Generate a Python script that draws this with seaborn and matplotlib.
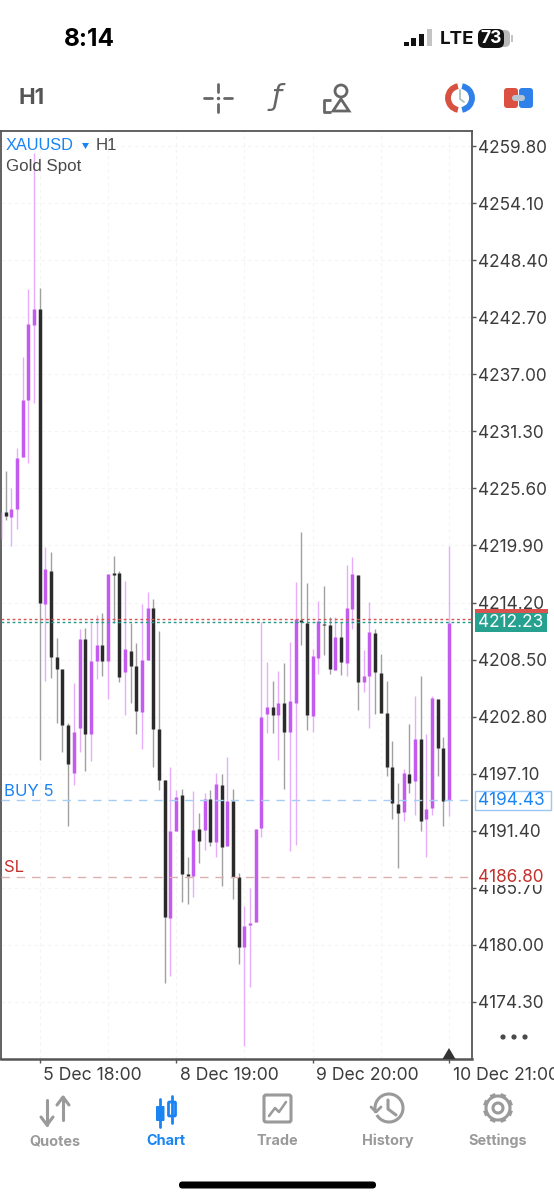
import numpy as np
import pandas as pd
import seaborn as sns
import matplotlib.pyplot as plt
from matplotlib.patches import Rectangle, FancyBboxPatch, Circle, Arc, Polygon

# candles, H1
opens = [4220.5,4223.2,4222.7,4223.5,4228.7,4234.4,4241.9,4243.5,4214.1,4217.3,
         4208.8,4207.6,4202.0,4197.2,4201.7,4210.6,4201.1,4208.4,4210.0,4208.4,
         4217.1,4217.1,4207.3,4209.4,4207.9,4203.3,4208.5,4213.7,4201.6,4196.5,
         4182.7,4191.4,4195.0,4187.1,4186.9,4191.6,4191.5,4194.6,4190.3,4196.0,
         4189.9,4194.4,4186.8,4179.8,4182.0,4182.3,4191.7,4203.1,4203.8,4203.0,
         4204.2,4201.3,4204.2,4212.5,4212.2,4202.9,4208.7,4212.1,4212.0,4207.5,
         4210.8,4208.2,4213.6,4216.9,4206.3,4206.9,4211.2,4207.2,4203.2,4197.8,
         4194.1,4193.3,4197.1,4196.4,4200.6,4192.6,4193.7,4204.6,4199.7,4194.5]
highs = [4223.2,4227.3,4225.6,4229.6,4238.7,4245.5,4259.1,4245.6,4219.7,4219.2,
         4210.7,4207.6,4202.2,4206.2,4211.6,4211.7,4212.2,4213.0,4213.2,4217.0,
         4218.8,4217.3,4216.4,4212.2,4210.2,4214.1,4215.3,4214.6,4211.4,4196.5,
         4197.8,4195.5,4195.6,4188.8,4195.4,4193.2,4195.2,4195.5,4197.2,4197.1,
         4198.8,4195.6,4187.2,4183.9,4185.7,4191.6,4212.3,4208.3,4206.4,4207.4,
         4208.2,4210.3,4216.3,4221.2,4216.2,4209.6,4214.4,4215.9,4212.8,4212.8,
         4212.3,4217.9,4218.7,4216.9,4209.5,4214.3,4211.6,4209.1,4206.4,4200.4,
         4196.2,4197.6,4202.1,4204.9,4206.9,4201.1,4204.9,4204.6,4200.8,4219.8]
lows = [4220.5,4222.4,4219.8,4221.5,4228.7,4228.1,4234.1,4198.5,4206.4,4206.7,
        4202.2,4199.3,4191.9,4196.0,4199.3,4197.4,4198.4,4206.6,4206.9,4204.6,
        4212.2,4206.3,4203.0,4204.2,4201.1,4199.6,4208.5,4197.8,4195.5,4176.2,
        4176.9,4191.4,4184.3,4184.1,4184.8,4188.2,4189.5,4189.9,4188.8,4185.9,
        4189.9,4184.6,4178.1,4169.9,4175.8,4182.3,4190.8,4201.2,4201.2,4198.5,
        4195.6,4189.4,4190.0,4210.0,4201.5,4201.3,4207.1,4209.0,4207.1,4207.5,
        4207.0,4206.9,4211.6,4203.5,4205.3,4201.7,4203.1,4203.2,4196.9,4192.6,
        4187.7,4192.4,4195.2,4193.0,4191.4,4188.8,4193.0,4196.9,4191.9,4192.9]
closes = [4223.2,4222.8,4223.5,4228.6,4234.4,4242.0,4243.5,4214.2,4217.5,4208.8,
          4207.6,4202.0,4198.1,4201.3,4210.6,4201.1,4208.4,4210.0,4208.4,4217.0,
          4216.9,4206.8,4209.6,4207.9,4203.4,4208.5,4213.7,4201.6,4196.5,4182.8,
          4191.4,4194.8,4187.1,4186.9,4191.5,4190.4,4194.6,4190.3,4196.1,4189.8,
          4194.4,4186.8,4179.8,4181.9,4182.2,4191.6,4202.8,4203.8,4203.0,4204.2,
          4201.3,4204.4,4212.6,4212.3,4203.0,4208.9,4212.4,4212.0,4207.6,4210.8,
          4208.3,4213.7,4217.0,4206.3,4206.9,4211.3,4207.3,4203.2,4197.8,4194.2,
          4193.2,4197.2,4196.2,4200.6,4192.4,4193.6,4204.7,4199.7,4194.4,4212.2]

price_ticks = [4259.80,4254.10,4248.40,4242.70,4237.00,4231.30,4225.60,4219.90,
               4214.20,4208.50,4202.80,4197.10,4191.40,4185.70,4180.00,4174.30]
time_ticks = [7, 31, 55, 79]
time_labels = ['5 Dec 18:00', '8 Dec 19:00', '9 Dec 20:00', '10 Dec 21:00']
grid_times = [7, 19, 31, 43, 55, 67, 79]
bid_price = 4212.23
ask_price = 4212.55
buy_price = 4194.43
sl_price = 4186.80

W, H = 554, 1200
BLUE = '#1a84f2'
GREY = '#4a4a4a'
TAB = '#9a9a9a'

sns.set_theme(style='white')
plt.rcParams['font.family'] = ['Inter', 'DejaVu Sans']

idx = np.arange(len(opens))
df = pd.DataFrame({'i': idx, 'open': opens, 'high': highs, 'low': lows, 'close': closes})
df['side'] = np.where(df['close'] >= df['open'], 'up', 'down')

wicks = df.melt(id_vars=['i', 'side'], value_vars=['high', 'low'], value_name='price')
bodies = df.melt(id_vars=['i', 'side'], value_vars=['open', 'close'], value_name='price')

fig = plt.figure(figsize=(W / 100, H / 100), dpi=100, facecolor='white')
ax = fig.add_axes([0.5 / W, 1 - 1059 / H, 471.5 / W, (1059 - 131) / H])

# grid first, very faint
for p in price_ticks:
    ax.axhline(p, color='#f4f4f4', lw=0.8, ls=(0, (3, 3)), zorder=0)
for t in grid_times:
    ax.axvline(t, color='#f4f4f4', lw=0.8, ls=(0, (3, 3)), zorder=0)

sns.lineplot(data=wicks, x='i', y='price', hue='side', units='i', estimator=None, sort=False,
             palette={'up': '#e6aefa', 'down': '#a0a0a0'}, linewidth=1.0,
             solid_capstyle='butt', legend=False, ax=ax, zorder=2)
sns.lineplot(data=bodies, x='i', y='price', hue='side', units='i', estimator=None, sort=False,
             palette={'up': '#c45bf0', 'down': '#2b2b2b'}, linewidth=2.5,
             solid_capstyle='butt', legend=False, ax=ax, zorder=3)

ax.axhline(ask_price, color='#d9534f', lw=1.0, ls=(0, (2, 2)), zorder=4)
ax.axhline(bid_price, color='#1f9d8b', lw=1.0, ls=(0, (2, 2)), zorder=4)
ax.axhline(buy_price, color='#a5cdf6', lw=1.0, ls=(0, (6, 5)), zorder=4)
ax.axhline(sl_price, color='#dfaeae', lw=1.0, ls=(0, (6, 5)), zorder=4)

ax.set_xlim(0.1, 0.1 + 471.5 / 5.685)
ax.set_ylim(4174.30 - 57 / 10.01, 4259.80 + 15 / 10.01)
ax.set_xlabel('')
ax.set_ylabel('')
ax.set_facecolor('white')
for s in ax.spines.values():
    s.set_color('#555555')
    s.set_linewidth(1.3)
ax.spines['bottom'].set_linewidth(1.8)

ax.yaxis.tick_right()
ax.set_yticks(price_ticks)
ax.set_yticklabels(['%.2f' % p for p in price_ticks], color='#3c3c3c', fontsize=12.4)
ax.tick_params(axis='y', length=3, width=1, color='#555555', pad=1, right=True, left=False)
ax.set_xticks(time_ticks)
ax.set_xticklabels([])
ax.tick_params(axis='x', length=3, width=1, color='#555555', bottom=True)
for t, lab in zip(time_ticks, time_labels):
    ax.annotate(lab, xy=(t, 0), xycoords=('data', 'axes fraction'), xytext=(2.5, -12),
                textcoords='offset points', ha='left', va='center', fontsize=12.7,
                color='#3c3c3c', annotation_clip=False)

# everything that is phone ui goes on a pixel overlay
ui = fig.add_axes([0, 0, 1, 1], zorder=5)
ui.set_xlim(0, W)
ui.set_ylim(H, 0)
ui.axis('off')
ui.patch.set_alpha(0)


def txt(x, y, s, size, color, weight='normal', ha='left', **kw):
    ui.text(x, y, s, fontsize=size, color=color, fontweight=weight, ha=ha, va='center', **kw)


def seg(xs, ys, color, lw=1.5, **kw):
    ui.plot(xs, ys, color=color, lw=lw, solid_capstyle=kw.pop('cap', 'round'), **kw)


# status bar
txt(64, 39, '8:14', 17.5, '#000000', 'bold')
for x, top, col in [(406, 42, '#111111'), (413, 38, '#111111'), (421, 34, '#111111'), (429, 29, '#c4c4c4')]:
    ui.add_patch(Rectangle((x - 2.5, top), 5.5, 46 - top, color=col, lw=0))
txt(440, 39, 'LTE', 13.5, '#111111', 'bold')
ui.add_patch(FancyBboxPatch((482, 30), 28, 17, boxstyle='round,pad=0,rounding_size=5', fc='#b9b9b9', ec='none'))
ui.add_patch(FancyBboxPatch((478, 29), 26, 19, boxstyle='round,pad=0,rounding_size=6', fc='#111111', ec='none'))
ui.add_patch(Rectangle((511, 35), 2, 7, color='#c4c4c4', lw=0))
txt(491, 38.5, '73', 12.5, 'white', 'bold', ha='center')

# toolbar
txt(19, 98, 'H1', 16, '#555555', 'bold')
for xs, ys in [([218, 218], [84, 92]), ([218, 218], [104, 112]), ([204, 212], [98, 98]), ([224, 232], [98, 98])]:
    seg(xs, ys, '#666666', 2)
seg([218], [98], '#666666', 2, marker='o', markersize=1.5)
ui.text(277, 97, 'ƒ', fontsize=21, color='#666666', ha='center', va='center', family='DejaVu Sans', style='italic')
seg([331, 324, 324, 331], [100, 100, 112, 112], '#666666', 2, cap='butt')
ui.add_patch(Circle((341, 91), 6, fc='none', ec='#666666', lw=2))
ui.add_patch(Polygon([[341, 99], [333, 111], [349, 111]], closed=True, fc='none', ec='#666666', lw=2))
ui.add_patch(Arc((460, 98), 24, 24, theta1=100, theta2=260, color='#d8503f', lw=4.2))
ui.add_patch(Arc((460, 98), 24, 24, theta1=-80, theta2=80, color='#2f80e8', lw=4.2))
seg([460, 460, 464], [90, 99, 102], '#a9c0b8', 1.3)
ui.add_patch(FancyBboxPatch((504, 88), 14, 20, boxstyle='round,pad=0,rounding_size=3', fc='#dc5042', ec='none'))
ui.add_patch(FancyBboxPatch((519, 88), 14, 20, boxstyle='round,pad=0,rounding_size=3', fc='#2f80e8', ec='none'))
ui.add_patch(FancyBboxPatch((512, 95), 13, 6, boxstyle='round,pad=0,rounding_size=3', fc='#b8c4d0', ec='none'))

# chart overlay text
ui.text(6, 145, 'XAUUSD', fontsize=11.8, color=BLUE, family='Liberation Sans', va='center')
ui.add_patch(Polygon([[82, 143], [89, 143], [85.5, 149]], closed=True, fc=BLUE, ec='none'))
ui.text(96, 145, 'H1', fontsize=12.2, color=GREY, family='Liberation Sans', va='center')
ui.text(6, 166, 'Gold Spot', fontsize=12.2, color=GREY, family='Liberation Sans', va='center')
txt(4, 791, 'BUY 5', 12, BLUE)
txt(4, 867, 'SL', 12, '#c4302b')

# price flags on the right
ui.add_patch(Rectangle((475, 609), 73, 5, color='#d9534f', lw=0))
ui.add_patch(Rectangle((475, 613), 72, 19, color='#26a08f', lw=0))
txt(478, 622.5, '%.2f' % bid_price, 12.4, 'white')
ui.add_patch(Rectangle((475, 791), 76, 19, fc='white', ec='#9cc6f5', lw=1))
txt(478, 800.5, '%.2f' % buy_price, 12.4, BLUE)
ui.add_patch(Rectangle((475, 868), 78, 17, fc='white', ec='none'))
txt(478, 877, '%.2f' % sl_price, 12.4, '#c4302b')

# more dots, last bar marker
for x in [503, 514, 525]:
    ui.add_patch(Circle((x, 1037), 2.6, color='#4a4a4a', lw=0))
ui.add_patch(Polygon([[449, 1048], [442.5, 1059], [455.5, 1059]], closed=True, fc='#333333', ec='none'))

# tab bar
seg([47, 47], [1100, 1125], TAB, 2.2)
seg([41, 47, 53], [1117, 1125, 1117], TAB, 2.2)
seg([63, 63], [1097, 1120], TAB, 2.2)
seg([57, 63, 69], [1105, 1097, 1105], TAB, 2.2)
seg([160, 160], [1099, 1127], BLUE, 2)
ui.add_patch(FancyBboxPatch((156, 1106), 8.5, 15, boxstyle='round,pad=0,rounding_size=1', fc=BLUE, ec='none'))
seg([172, 172], [1096, 1123], BLUE, 2)
ui.add_patch(FancyBboxPatch((168.5, 1102), 7, 14, boxstyle='round,pad=0,rounding_size=1', fc='white', ec=BLUE, lw=2))
ui.add_patch(FancyBboxPatch((264, 1095), 27, 27, boxstyle='round,pad=0,rounding_size=2', fc='white', ec=TAB, lw=2.2))
seg([269, 275, 279, 286], [1116, 1108, 1112, 1102], TAB, 1.8)
ui.add_patch(Arc((389, 1108), 28, 28, theta1=-200, theta2=150, color=TAB, lw=2.2))
seg([371, 376, 381], [1107, 1112, 1107], TAB, 2)
seg([388, 388, 396], [1100, 1109, 1115], TAB, 2.2)
ui.add_patch(Circle((498, 1108), 12, fc='none', ec=TAB, lw=2.2))
ui.add_patch(Circle((498, 1108), 5, fc='none', ec=TAB, lw=2.2))
for a in np.deg2rad(np.arange(0, 360, 45) + 22.5):
    seg([498 + 12 * np.cos(a), 498 + 15 * np.cos(a)], [1108 + 12 * np.sin(a), 1108 + 15 * np.sin(a)], TAB, 4, cap='butt')
for x, s, col in [(55, 'Quotes', TAB), (166, 'Chart', BLUE), (277, 'Trade', TAB), (387.5, 'History', TAB), (498, 'Settings', TAB)]:
    txt(x, 1141, s, 10.4, col, 'bold', ha='center')
ui.add_patch(FancyBboxPatch((179, 1181.5), 197, 7, boxstyle='round,pad=0,rounding_size=3.5', fc='black', ec='none'))

fig.savefig('out.png', dpi=100, facecolor='white')
